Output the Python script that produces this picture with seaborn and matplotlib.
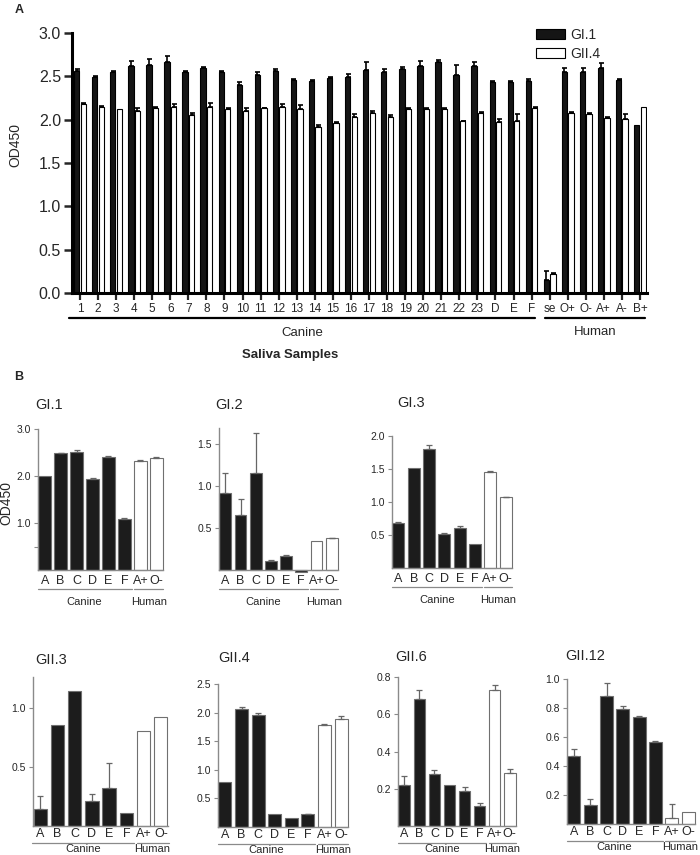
import numpy as np
import pandas as pd
import matplotlib
matplotlib.use("Agg")
import matplotlib.pyplot as plt
import seaborn as sns

# ---- panel A data ----
samples = [str(i) for i in range(1, 24)] + ["D", "E", "F", "se", "O+", "O-", "A+", "A-", "B+"]
gi1 = [2.56, 2.49, 2.55, 2.62, 2.63, 2.66, 2.55, 2.60, 2.55, 2.40, 2.51, 2.56, 2.46, 2.45, 2.48, 2.49,
       2.57, 2.55, 2.58, 2.62, 2.67, 2.51, 2.62, 2.43, 2.43, 2.45, 0.15, 2.55, 2.55, 2.60, 2.46, 1.94]
gi1_err = [0.02, 0.01, 0.01, 0.06, 0.07, 0.07, 0.01, 0.01, 0.01, 0.03, 0.04, 0.03, 0.01, 0.01, 0.01, 0.04,
           0.09, 0.04, 0.03, 0.06, 0.02, 0.12, 0.05, 0.02, 0.02, 0.02, 0.10, 0.05, 0.05, 0.05, 0.01, 0.0]
gii4 = [2.18, 2.15, 2.12, 2.10, 2.13, 2.15, 2.05, 2.15, 2.12, 2.10, 2.13, 2.15, 2.12, 1.91, 1.96, 2.03,
        2.08, 2.03, 2.12, 2.12, 2.12, 1.98, 2.08, 1.97, 1.99, 2.13, 0.22, 2.08, 2.07, 2.02, 2.01, 2.15]
gii4_err = [0.01, 0.01, 0.0, 0.03, 0.02, 0.03, 0.03, 0.04, 0.01, 0.03, 0.01, 0.03, 0.05, 0.03, 0.01, 0.04,
            0.02, 0.02, 0.02, 0.02, 0.01, 0.01, 0.01, 0.04, 0.07, 0.02, 0.01, 0.01, 0.01, 0.01, 0.05, 0.0]

# ---- panel B data ----
b_labels = ["A", "B", "C", "D", "E", "F", "A+", "O-"]
b_groups = ["Canine"] * 6 + ["Human"] * 2
b_titles = ["GI.1", "GI.2", "GI.3", "GII.3", "GII.4", "GII.6", "GII.12"]
b_vals = {
    "GI.1": [2.00, 2.48, 2.52, 1.94, 2.41, 1.08, 2.32, 2.39],
    "GI.2": [0.92, 0.66, 1.15, 0.11, 0.17, -0.02, 0.34, 0.38],
    "GI.3": [0.68, 1.51, 1.80, 0.52, 0.61, 0.36, 1.45, 1.07],
    "GII.3": [0.14, 0.85, 1.14, 0.21, 0.32, 0.11, 0.80, 0.92],
    "GII.4": [0.79, 2.07, 1.96, 0.235, 0.15, 0.22, 1.79, 1.89],
    "GII.6": [0.22, 0.683, 0.28, 0.22, 0.19, 0.108, 0.728, 0.287],
    "GII.12": [0.47, 0.134, 0.88, 0.79, 0.74, 0.566, 0.04, 0.084],
}
b_errs = {
    "GI.1": [0.0, 0.02, 0.03, 0.01, 0.02, 0.02, 0.01, 0.02],
    "GI.2": [0.24, 0.19, 0.48, 0.01, 0.005, 0.0, 0.0, 0.005],
    "GI.3": [0.01, 0.0, 0.06, 0.01, 0.03, 0.0, 0.02, 0.01],
    "GII.3": [0.11, 0.0, 0.0, 0.06, 0.21, 0.0, 0.0, 0.0],
    "GII.4": [0.0, 0.03, 0.03, 0.0, 0.0, 0.01, 0.01, 0.05],
    "GII.6": [0.05, 0.045, 0.02, 0.003, 0.022, 0.017, 0.027, 0.02],
    "GII.12": [0.045, 0.035, 0.095, 0.025, 0.005, 0.008, 0.10, 0.0],
}
b_ylim = {"GI.1": 3.0, "GI.2": 1.69, "GI.3": 2.0, "GII.3": 1.26, "GII.4": 2.5, "GII.6": 0.8, "GII.12": 1.0}
b_ticks = {
    "GI.1": [0.5, 1.0, 2.0, 3.0], "GI.2": [0.5, 1.0, 1.5], "GI.3": [0.5, 1.0, 1.5, 2.0],
    "GII.3": [0.5, 1.0], "GII.4": [0.5, 1.0, 1.5, 2.0, 2.5], "GII.6": [0.2, 0.4, 0.6, 0.8],
    "GII.12": [0.2, 0.4, 0.6, 0.8, 1.0],
}
# axes boxes in pixels: left, top, right, bottom
b_boxes = {
    "GI.1": (38, 429, 163, 570), "GI.2": (219, 428, 338, 570), "GI.3": (392, 436, 512, 568),
    "GII.3": (33, 677, 168, 826), "GII.4": (218, 684, 348, 827), "GII.6": (398, 677, 516, 826),
    "GII.12": (567, 679, 695, 824),
}
b_title_pos = {
    "GI.1": (35, 405), "GI.2": (215, 405), "GI.3": (397, 403),
    "GII.3": (35, 660), "GII.4": (218, 658), "GII.6": (395, 657), "GII.12": (565, 656),
}
# per row: tick label pad (pt), group line offset (px), group text offset (px)
row_of = {"GI.1": 0, "GI.2": 0, "GI.3": 0, "GII.3": 1, "GII.4": 1, "GII.6": 1, "GII.12": 1}
row_geom = [(3.5, 19, 32), (1.2, 17, 23)]

W, H = 700, 855
sns.set_style("white")
plt.rcParams["font.family"] = ["Liberation Sans", "DejaVu Sans"]

fig = plt.figure(figsize=(7, 8.55), dpi=100)


def box(l, t, r, b):
    return [l / W, 1 - b / H, (r - l) / W, (b - t) / H]


def group_line(ax, x0, x1, dy_px, ty_px, text, h_px, color, lw, fs):
    tr = ax.get_xaxis_transform()
    ax.plot([x0, x1], [-dy_px / h_px] * 2, transform=tr, color=color, lw=lw, clip_on=False)
    ax.text((x0 + x1) / 2, -ty_px / h_px, text, transform=tr, ha="center", va="center", fontsize=fs)


# ---------------- panel A ----------------
dfa = pd.DataFrame({
    "sample": samples * 2,
    "series": ["GI.1"] * len(samples) + ["GII.4"] * len(samples),
    "od": gi1 + gii4,
})
axA = fig.add_axes(box(72, 33, 647, 293))
sns.barplot(data=dfa, x="sample", y="od", hue="series", order=samples, hue_order=["GI.1", "GII.4"],
            palette={"GI.1": "#151515", "GII.4": "white"}, edgecolor="black", linewidth=0.8,
            width=0.72, gap=0.18, ax=axA)
for cont, err in zip(axA.containers, [gi1_err, gii4_err]):
    xs = [p.get_x() + p.get_width() / 2 for p in cont]
    ys = [p.get_height() for p in cont]
    e = np.array(err)
    m = e > 0
    axA.errorbar(np.array(xs)[m], np.array(ys)[m], yerr=[np.zeros(m.sum()), e[m]], fmt="none",
                 ecolor="black", elinewidth=1.2, capsize=1.8, capthick=1.2)
axA.set_xlim(-0.44, len(samples) - 1 + 0.39)
axA.set_ylim(0, 3.0)
axA.set_yticks(np.arange(0, 3.01, 0.5))
axA.set_yticklabels([f"{v:.1f}" for v in np.arange(0, 3.01, 0.5)], fontsize=11.5)
axA.tick_params(axis="x", length=5, width=1.6, labelsize=8.5, pad=2, direction="out", bottom=True)
axA.tick_params(axis="y", length=6, width=1.8, direction="out", left=True, pad=2)
for s in ["top", "right"]:
    axA.spines[s].set_visible(False)
for s in ["left", "bottom"]:
    axA.spines[s].set_linewidth(2.2)
    axA.spines[s].set_color("black")
axA.set_xlabel("")
axA.set_ylabel("")
axA.legend(loc="upper left", bbox_to_anchor=(529 / W, 1 - 21 / H), bbox_transform=fig.transFigure,
           frameon=False, fontsize=10, handlelength=2.1, handleheight=0.75, labelspacing=0.35,
           handletextpad=0.4, borderpad=0)
group_line(axA, -0.61, 25.2, 25, 40, "Canine", 260, "black", 1.6, 9.5)
group_line(axA, 25.75, 31.3, 25, 39, "Human", 260, "black", 1.6, 9.5)
fig.text(290 / W, 1 - 355 / H, "Saliva Samples", ha="center", va="center", fontsize=9.5, fontweight="bold")
fig.text(15 / W, 1 - 145 / H, "OD450", rotation=90, ha="center", va="center", fontsize=10)
fig.text(19 / W, 1 - 10 / H, "A", ha="center", va="center", fontsize=9, fontweight="bold")
fig.text(19 / W, 1 - 377 / H, "B", ha="center", va="center", fontsize=9, fontweight="bold")

# ---------------- panel B ----------------
gray = "#8a8a8a"
for name in b_titles:
    l, t, r, b = b_boxes[name]
    pad, dy, ty = row_geom[row_of[name]]
    ax = fig.add_axes(box(l, t, r, b))
    dfb = pd.DataFrame({"label": b_labels, "group": b_groups, "od": b_vals[name]})
    sns.barplot(data=dfb, x="label", y="od", hue="group", order=b_labels, dodge=False,
                palette={"Canine": "#1c1c1c", "Human": "white"}, edgecolor="#707070", linewidth=0.8,
                width=0.78, legend=False, ax=ax)
    e = np.array(b_errs[name])
    v = np.array(b_vals[name])
    m = e > 0.004
    ax.errorbar(np.arange(len(b_labels))[m], v[m], yerr=[np.zeros(m.sum()), e[m]], fmt="none",
                ecolor="#666666", elinewidth=0.9, capsize=2.2, capthick=0.9)
    for p in ax.patches:
        p.set_clip_on(False)
    ax.set_xlim(-0.42, 7.42)
    ax.set_ylim(0, b_ylim[name])
    ticks = b_ticks[name]
    ax.set_yticks(ticks)
    if name == "GI.1":
        ax.set_yticklabels(["" if tk == 0.5 else f"{tk:.1f}" for tk in ticks])
    ax.tick_params(axis="y", length=3, width=0.8, color=gray, labelsize=7.5, pad=2, left=True)
    ax.tick_params(axis="x", length=0, labelsize=9, pad=pad)
    for s in ["top", "right"]:
        ax.spines[s].set_visible(False)
    for s in ["left", "bottom"]:
        ax.spines[s].set_color(gray)
        ax.spines[s].set_linewidth(1.0)
    ax.set_xlabel("")
    ax.set_ylabel("")
    hpx = b - t
    group_line(ax, -0.45, 5.45, dy, ty, "Canine", hpx, gray, 0.9, 8)
    group_line(ax, 5.6, 7.45, dy, ty, "Human", hpx, gray, 0.9, 8)
    tx, tyy = b_title_pos[name]
    fig.text(tx / W, 1 - tyy / H, name, ha="left", va="center", fontsize=10.5)

fig.text(6 / W, 1 - 503 / H, "OD450", rotation=90, ha="center", va="center", fontsize=10)

fig.savefig("out.png", dpi=100)
